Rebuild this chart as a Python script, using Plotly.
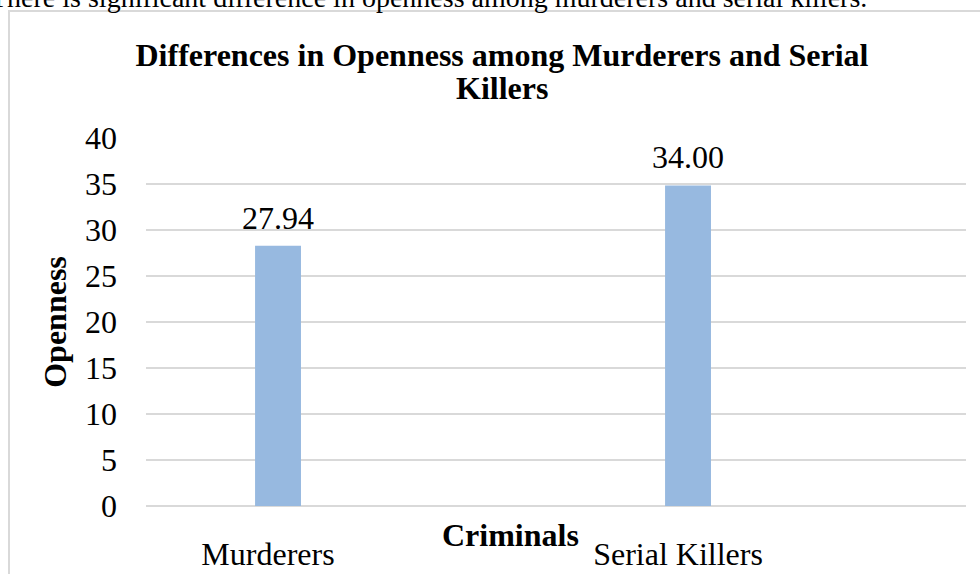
import plotly.graph_objects as go

categories = ["Murderers", "Serial Killers"]
openness = [28.3, 34.85]
value_labels = ["27.94", "34.00"]
y_ticks = [0, 5, 10, 15, 20, 25, 30, 35, 40]

W, H = 980, 574
L, R, T, B = 146, 14, 138, 68
PW, PH = W - L - R, H - T - B
FONT = "Liberation Serif, Times New Roman, serif"
GRID = "#d9d9d9"


def px_x(px):
    return (px - L) / PW


def px_y(py):
    return (H - B - py) / PH


fig = go.Figure(
    go.Bar(
        x=categories,
        y=openness,
        width=0.112,
        offset=-0.234,
        marker=dict(color="#97b9e0", line=dict(width=0)),
        hoverinfo="skip",
    )
)

for c, v, t in zip(categories, openness, value_labels):
    fig.add_annotation(
        x=c, y=v, xref="x", yref="y", text=t, showarrow=False,
        xanchor="center", yanchor="bottom", xshift=-73, yshift=8,
        font=dict(family=FONT, size=32, color="#000000"),
    )

# x-axis title (placed above the category labels as in the original)
fig.add_annotation(
    x=px_x(510), y=px_y(535), xref="paper", yref="paper", text="<b>Criminals</b>",
    showarrow=False, xanchor="center", yanchor="middle",
    font=dict(family=FONT, size=32, color="#000000"),
)

# second line of the chart title
fig.add_annotation(
    x=px_x(502), y=px_y(88), xref="paper", yref="paper", text="<b>Killers</b>",
    showarrow=False, xanchor="center", yanchor="middle",
    font=dict(family=FONT, size=32, color="#000000"),
)

# cut-off line of text above the chart box
fig.add_annotation(
    x=px_x(869), y=px_y(-3), xref="paper", yref="paper",
    text="There is significant difference in openness among murderers and serial killers.",
    showarrow=False, xanchor="right", yanchor="middle",
    font=dict(family=FONT, size=28, color="#000000"),
)

# chart box border
fig.add_shape(
    type="rect", xref="paper", yref="paper",
    x0=px_x(9), x1=px_x(1010), y0=px_y(620), y1=px_y(11),
    line=dict(color=GRID, width=2), fillcolor="rgba(0,0,0,0)", layer="above",
)

fig.update_layout(
    template="none",
    width=W, height=H,
    margin=dict(l=L, r=R, t=T, b=B, pad=0, autoexpand=False),
    paper_bgcolor="white", plot_bgcolor="white",
    showlegend=False,
    title=dict(
        text="<b>Differences in Openness among Murderers and Serial</b>",
        x=502 / W, xref="container", xanchor="center",
        y=1 - 55 / H, yref="container", yanchor="middle",
        font=dict(family=FONT, size=32, color="#000000"),
    ),
    xaxis=dict(
        type="category", range=[-0.5, 1.5], showgrid=False, showline=False,
        zeroline=False, ticks="", ticklabelshift=-83, ticklabelstandoff=26,
        automargin=False,
        tickfont=dict(family=FONT, size=32, color="#000000"),
    ),
    yaxis=dict(
        range=[0, 40], tickvals=y_ticks, ticktext=[str(v) for v in y_ticks],
        showgrid=True, gridcolor=GRID, gridwidth=1.5,
        zeroline=True, zerolinecolor=GRID, zerolinewidth=1.5,
        showline=False, ticks="", ticklabelstandoff=28, automargin=False,
        tickfont=dict(family=FONT, size=32, color="#000000"),
        title=dict(text="<b>Openness</b>", standoff=8,
                   font=dict(family=FONT, size=32, color="#000000")),
    ),
)

fig.write_html(
    "out.html",
    config={"displayModeBar": False},
    post_script="document.body.style.margin='0';",
)
